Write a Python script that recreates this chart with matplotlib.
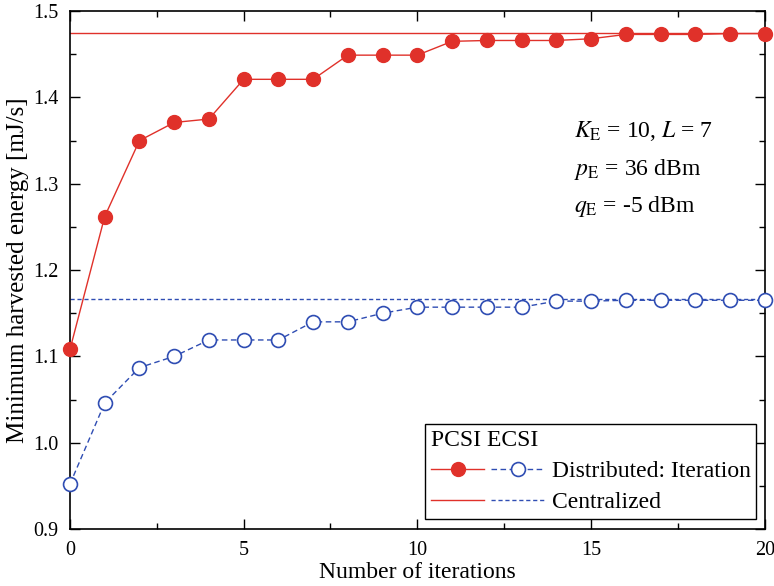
import matplotlib
matplotlib.use('Agg')
import matplotlib.pyplot as plt
from matplotlib.legend_handler import HandlerTuple
from matplotlib.ticker import MultipleLocator

plt.rcParams['font.family'] = ['Liberation Serif', 'DejaVu Serif']
plt.rcParams['mathtext.fontset'] = 'stix'

# datos
iters = list(range(21))
pcsi_dist = [1.108, 1.262, 1.350, 1.371, 1.375, 1.421, 1.421, 1.421, 1.449, 1.449, 1.449,
             1.465, 1.466, 1.466, 1.466, 1.468, 1.473, 1.473, 1.473, 1.474, 1.474]
ecsi_dist = [0.952, 1.046, 1.087, 1.100, 1.119, 1.119, 1.119, 1.140, 1.140, 1.150, 1.157,
             1.157, 1.157, 1.157, 1.164, 1.164, 1.165, 1.165, 1.165, 1.165, 1.165]
pcsi_cent = 1.475
ecsi_cent = 1.167

red = '#e0312a'
blue = '#2f4db3'

fig = plt.figure(figsize=(7.74, 5.86), dpi=100)
ax = fig.add_axes([0.0904, 0.0973, 0.8976, 0.8837])

# lineas centralizadas
c1 = ax.axhline(pcsi_cent, color=red, lw=1.0)
c2 = ax.axhline(ecsi_cent, color=blue, lw=1.0, ls=(0, (3, 2)))

# iteraciones
d1, = ax.plot(iters, pcsi_dist, color=red, lw=1.0, marker='o', ms=10,
              mfc=red, mec=red, clip_on=False, zorder=4)
d2, = ax.plot(iters, ecsi_dist, color=blue, lw=1.0, ls=(0, (4, 2.5)), marker='o', ms=10,
              mfc='white', mec=blue, mew=1.2, clip_on=False, zorder=4)

ax.set_xlim(0, 20)
ax.set_ylim(0.9, 1.5)
ax.xaxis.set_major_locator(MultipleLocator(5))
ax.xaxis.set_minor_locator(MultipleLocator(2.5))
ax.yaxis.set_major_locator(MultipleLocator(0.1))
ax.yaxis.set_minor_locator(MultipleLocator(0.05))
ax.tick_params(which='both', direction='in', top=True, right=True, labelsize=14.5)
ax.tick_params(which='major', length=7, width=1.0)
ax.tick_params(which='minor', length=4, width=1.0)
ax.tick_params(axis='x', pad=9)
ax.tick_params(axis='y', pad=8)
ax.yaxis.set_major_formatter(matplotlib.ticker.FormatStrFormatter('%.1f'))
for s in ax.spines.values():
    s.set_linewidth(1.2)

ax.set_xlabel('Number of iterations', fontsize=17, labelpad=1)
ax.set_ylabel('Minimum harvested energy [mJ/s]', fontsize=18, labelpad=3)

ax.text(14.5, 1.354, r'$K_{\rm E}$ = 10, $L$ = 7', fontsize=17, va='baseline')
ax.text(14.5, 1.310, r'$p_{\rm E}$ = 36 dBm', fontsize=17, va='baseline')
ax.text(14.5, 1.267, r'$q_{\rm E}$ = -5 dBm', fontsize=17, va='baseline')

leg = ax.legend([(d1, d2), (c1, c2)], ['Distributed: Iteration', 'Centralized'],
                handler_map={tuple: HandlerTuple(ndivide=None, pad=0.3)},
                loc='lower right', bbox_to_anchor=(1.005, -0.003), fontsize=17,
                title='PCSI ECSI', title_fontsize=17, alignment='left',
                handlelength=4.8, handletextpad=0.3, borderpad=0.25, labelspacing=0.4,
                frameon=True, fancybox=False, edgecolor='black', framealpha=1)
leg.get_frame().set_linewidth(1.0)

fig.savefig('out.png', dpi=100)
